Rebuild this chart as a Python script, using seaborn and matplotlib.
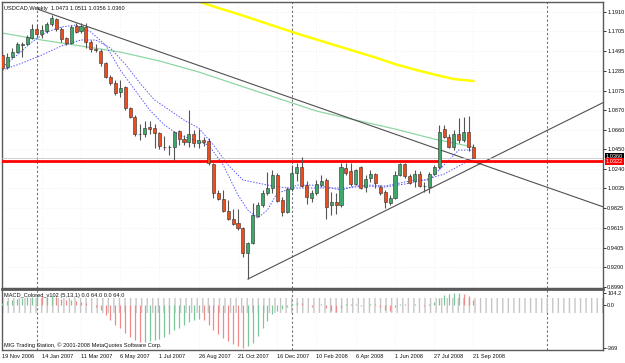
import matplotlib
matplotlib.use("Agg")
import matplotlib.pyplot as plt
import seaborn as sns

sns.set_style("white")
plt.rcParams['font.family'] = ['Liberation Sans', 'DejaVu Sans']

# weekly USDCAD bars, index 0 = 19 Nov 2006
opens = [1.1453, 1.1326, 1.1432, 1.1485, 1.1560, 1.1570, 1.1634, 1.1730, 1.1677, 1.1708,
         1.1783, 1.1836, 1.1730, 1.1634, 1.1581, 1.1762, 1.1708, 1.1751, 1.1592, 1.1517,
         1.1496, 1.1368, 1.1219, 1.1156, 1.1060, 1.1113, 1.0890, 1.0794, 1.0614, 1.0614,
         1.0688, 1.0677, 1.0624, 1.0475, 1.0475, 1.0475, 1.0645, 1.0560, 1.0529, 1.0614,
         1.0518, 1.0550, 1.0539, 1.0295, 0.9986, 0.9923, 0.9795, 0.9710, 0.9668, 0.9614,
         0.9349, 0.9455, 0.9742, 0.9859, 0.9986, 1.0040, 1.0178, 0.9912, 0.9784, 1.0029,
         1.0199, 1.0263, 1.0071, 0.9933, 0.9986, 1.0071, 1.0125, 0.9859, 0.9891, 0.9859,
         1.0252, 1.0220, 1.0082, 1.0263, 1.0050, 1.0146, 1.0188, 1.0050, 0.9997, 0.9880,
         0.9933, 1.0178, 1.0295, 1.0167, 1.0114, 1.0188, 1.0061, 1.0050, 1.0188, 1.0263,
         1.0667, 1.0582, 1.0475, 1.0614, 1.0550, 1.0635, 1.0473]
highs = [1.1496, 1.1475, 1.1528, 1.1592, 1.1592, 1.1666, 1.1783, 1.1772, 1.1772, 1.1804,
         1.1879, 1.1847, 1.1751, 1.1645, 1.1772, 1.1794, 1.1794, 1.1794, 1.1613, 1.1570,
         1.1517, 1.1379, 1.1241, 1.1188, 1.1188, 1.1124, 1.0901, 1.0816, 1.0720, 1.0752,
         1.0752, 1.0720, 1.0635, 1.0592, 1.0497, 1.0645, 1.0656, 1.0603, 1.0869, 1.0656,
         1.0667, 1.0582, 1.0571, 1.0305, 1.0018, 1.0018, 0.9912, 0.9816, 0.9816, 0.9625,
         0.9466, 0.9880, 0.9891, 1.0018, 1.0210, 1.0231, 1.0199, 0.9944, 1.0050, 1.0284,
         1.0305, 1.0369, 1.0114, 1.0018, 1.0125, 1.0178, 1.0146, 0.9997, 0.9986, 1.0305,
         1.0305, 1.0305, 1.0242, 1.0273, 1.0178, 1.0231, 1.0199, 1.0071, 1.0018, 0.9965,
         1.0220, 1.0305, 1.0305, 1.0188, 1.0231, 1.0220, 1.0103, 1.0210, 1.0284, 1.0709,
         1.0709, 1.0614, 1.0656, 1.0784, 1.0794, 1.0805, 1.0511]
lows = [1.1294, 1.1305, 1.1421, 1.1475, 1.1432, 1.1560, 1.1623, 1.1645, 1.1634, 1.1687,
        1.1762, 1.1708, 1.1592, 1.1560, 1.1570, 1.1687, 1.1687, 1.1528, 1.1485, 1.1485,
        1.1336, 1.1209, 1.1134, 1.1028, 1.1007, 1.0869, 1.0784, 1.0592, 1.0550, 1.0582,
        1.0614, 1.0465, 1.0454, 1.0443, 1.0390, 1.0337, 1.0497, 1.0497, 1.0475, 1.0475,
        1.0465, 1.0486, 1.0284, 0.9933, 0.9912, 0.9784, 0.9699, 0.9646, 0.9593, 0.9306,
        0.9072, 0.9444, 0.9731, 0.9838, 0.9965, 0.9986, 0.9891, 0.9742, 0.9774, 1.0008,
        1.0114, 1.0050, 0.9869, 0.9891, 0.9965, 1.0050, 0.9710, 0.9753, 0.9763, 0.9838,
        1.0178, 1.0061, 1.0071, 1.0029, 0.9997, 1.0103, 1.0040, 0.9965, 0.9827, 0.9859,
        0.9923, 1.0167, 1.0146, 1.0082, 1.0050, 1.0050, 0.9997, 0.9986, 1.0178, 1.0242,
        1.0571, 1.0465, 1.0443, 1.0518, 1.0529, 1.0433, 1.0356]
closes = [1.1315, 1.1432, 1.1485, 1.1570, 1.1570, 1.1645, 1.1730, 1.1677, 1.1719, 1.1783,
          1.1847, 1.1730, 1.1623, 1.1581, 1.1751, 1.1698, 1.1762, 1.1592, 1.1517, 1.1506,
          1.1368, 1.1219, 1.1156, 1.1049, 1.1103, 1.0890, 1.0794, 1.0614, 1.0614, 1.0677,
          1.0667, 1.0624, 1.0486, 1.0475, 1.0475, 1.0635, 1.0560, 1.0529, 1.0614, 1.0518,
          1.0550, 1.0529, 1.0305, 0.9986, 0.9923, 0.9795, 0.9710, 0.9657, 0.9614, 0.9349,
          0.9455, 0.9753, 0.9859, 0.9986, 1.0040, 1.0178, 0.9901, 0.9784, 1.0029, 1.0199,
          1.0263, 1.0061, 0.9944, 0.9986, 1.0082, 1.0114, 0.9838, 0.9891, 0.9859, 1.0263,
          1.0199, 1.0082, 1.0231, 1.0040, 1.0135, 1.0188, 1.0093, 0.9986, 0.9891, 0.9933,
          1.0178, 1.0295, 1.0167, 1.0093, 1.0188, 1.0061, 1.0061, 1.0188, 1.0263, 1.0635,
          1.0582, 1.0475, 1.0614, 1.0550, 1.0635, 1.0475, 1.0360]

# moving averages (bar index, price)
yellow_idx = [39, 44, 48, 52, 56, 60, 64, 68, 72, 76, 80, 84, 88, 92, 96]
yellow_val = [1.2038, 1.1953, 1.1889, 1.1820, 1.1751, 1.1682, 1.1618, 1.1554, 1.1491,
              1.1427, 1.1357, 1.1299, 1.1246, 1.1198, 1.1177]
green_idx = [0, 8, 16, 24, 32, 40, 48, 56, 64, 72, 80, 88, 96]
green_val = [1.1687, 1.1613, 1.1549, 1.1485, 1.1390, 1.1273, 1.1134, 1.0996, 1.0858,
             1.0762, 1.0667, 1.0560, 1.0475]
fast_idx = [0, 3, 6, 9, 12, 15, 18, 21, 24, 27, 30, 33, 36, 39, 42, 45, 48, 50, 52, 54,
            56, 58, 60, 63, 66, 69, 72, 75, 78, 81, 84, 87, 90, 93, 96]
fast_val = [1.1326, 1.1453, 1.1592, 1.1698, 1.1751, 1.1772, 1.1698, 1.1560, 1.1294, 1.1081,
            1.0869, 1.0709, 1.0603, 1.0550, 1.0497, 1.0284, 0.9965, 0.9806, 0.9721, 0.9806,
            0.9986, 1.0018, 1.0071, 1.0071, 1.0050, 1.0018, 1.0061, 1.0071, 1.0061, 1.0093,
            1.0125, 1.0125, 1.0284, 1.0443, 1.0443]
slow_idx = [0, 4, 8, 12, 16, 19, 22, 25, 28, 31, 34, 37, 40, 43, 46, 49, 52, 55, 58, 62,
            66, 70, 74, 78, 82, 86, 90, 93, 96]
slow_val = [1.1294, 1.1368, 1.1453, 1.1549, 1.1613, 1.1613, 1.1528, 1.1358, 1.1156, 1.0975,
            1.0869, 1.0762, 1.0677, 1.0497, 1.0284, 1.0125, 1.0093, 1.0061, 1.0040, 1.0040,
            1.0040, 1.0040, 1.0061, 1.0050, 1.0082, 1.0125, 1.0188, 1.0273, 1.0358]

# drawn objects
desc_idx = [7.1, 122.4]
desc_val = [1.1942, 0.9840]
asc_idx = [50, 122.4]
asc_val = [0.9072, 1.0947]
level = 1.0322
bid = 1.0360

price_ticks = [1.1910, 1.1705, 1.1495, 1.1285, 1.1075, 1.0870, 1.0660, 1.0450, 1.0240,
               1.0035, 0.9825, 0.9615, 0.9405, 0.9200, 0.8990]
date_idx = [0, 8, 16, 24, 32, 40, 48, 56, 64, 72, 80, 88, 96]
date_labels = ["19 Nov 2006", "14 Jan 2007", "11 Mar 2007", "6 May 2007", "1 Jul 2007",
               "26 Aug 2007", "21 Oct 2007", "16 Dec 2007", "10 Feb 2008", "6 Apr 2008",
               "1 Jun 2008", "27 Jul 2008", "21 Sep 2008"]
year_sep = [7, 59, 111]

macd = [22, 40, 48, 57, 65, 70, 74, 78, 74, 74, 78, 70, 57, 44, 48, 40, 31, 18, 5, -12,
        -38, -81, -124, -167, -193, -236, -270, -296, -313, -313, -304, -296, -292, -270,
        -244, -210, -193, -167, -141, -124, -115, -124, -167, -210, -244, -279, -304, -330,
        -347, -365, -347, -322, -261, -193, -133, -72, -46, -29, -12, 14, 31, 22, 5, -10,
        5, 12, -20, -45, -55, -20, 15, 10, 12, -5, 5, 15, 8, -15, -40, -50, -15, 15, 12, 0,
        8, 5, -5, 10, 25, 65, 91, 100, 104, 104, 100, 83, 48]

FS = 4.1
frame = '#5a5a5a'
bull = '#3da86a'
bear = '#ee4c1c'
txt = '#101010'

fig = plt.figure(figsize=(6.25, 3.63), dpi=100)
fig.patch.set_facecolor('white')
ax = fig.add_axes([2 / 625, 75 / 363, 601 / 625, 286 / 363])
am = fig.add_axes([2 / 625, 13 / 363, 601 / 625, 61 / 363], sharex=ax)

xs = list(range(len(closes)))
ax.set_xlim(-0.1, 122.4)
ax.set_ylim(0.8977, 1.2017)

# faint dotted grid
for p in price_ticks:
    ax.axhline(p, color='#f4dcdc', lw=0.5, ls=(0, (1, 3)), zorder=0)
for d in date_idx:
    ax.axvline(d, color='#f4dcdc', lw=0.5, ls=(0, (1, 3)), zorder=0)
    am.axvline(d, color='#f4dcdc', lw=0.5, ls=(0, (1, 3)), zorder=0)
for s in year_sep:
    ax.axvline(s, color='#707070', lw=0.8, ls=(0, (2, 2)), zorder=1)
    am.axvline(s, color='#707070', lw=0.8, ls=(0, (2, 2)), zorder=1)

# moving averages
sns.lineplot(x=yellow_idx, y=yellow_val, ax=ax, color='#ffff00', lw=1.8, zorder=2)
sns.lineplot(x=green_idx, y=green_val, ax=ax, color='#8ed6a6', lw=0.9, zorder=2)
sns.lineplot(x=fast_idx, y=fast_val, ax=ax, color='#5a5aff', lw=0.7, ls=(0, (1.5, 1.5)), zorder=2)
sns.lineplot(x=slow_idx, y=slow_val, ax=ax, color='#5a5aff', lw=0.7, ls=(0, (1.5, 1.5)), zorder=2)

# trend lines and levels
ax.plot(desc_idx, desc_val, color='#505050', lw=0.8, zorder=3)
ax.plot(asc_idx, asc_val, color='#505050', lw=0.8, zorder=3)
ax.axhline(bid, color='#c8c8c8', lw=0.6, zorder=3)
ax.axhline(level, color='#ff0000', lw=2, zorder=4)

# candles
body_lo = [min(o, c) for o, c in zip(opens, closes)]
body_h = [max(abs(c - o), 0.0004) for o, c in zip(opens, closes)]
cols = [bull if c > o else (bear if c < o else '#202020') for o, c in zip(opens, closes)]
ax.vlines(xs, lows, highs, color='#555555', lw=0.8, zorder=5)
ax.bar(xs, body_h, bottom=body_lo, width=0.62, color=cols, edgecolor='#303030',
       linewidth=0.4, zorder=6)

# price scale on the right
ax.yaxis.tick_right()
ax.set_yticks(price_ticks)
ax.set_yticklabels([f"{p:.4f}" for p in price_ticks], fontsize=FS, color=txt)
ax.tick_params(axis='y', length=2, width=0.6, pad=1, colors=txt)
ax.tick_params(axis='x', bottom=False, labelbottom=False)
ax.text(1.004, bid + 0.0012, f"{bid:.4f}", transform=ax.get_yaxis_transform(), fontsize=FS,
        color='white', va='center', ha='left', clip_on=False,
        bbox=dict(boxstyle='square,pad=0.15', fc='#000000', ec='none'))
ax.text(1.004, level, f"{level:.4f}", transform=ax.get_yaxis_transform(), fontsize=FS,
        color='white', va='center', ha='left', clip_on=False,
        bbox=dict(boxstyle='square,pad=0.15', fc='#ff0000', ec='none'))
for sp in ax.spines.values():
    sp.set_color(frame)
    sp.set_linewidth(1)

ax.text(0.004, 0.985, "USDCAD,Weekly  1.0473 1.0511 1.0356 1.0360", transform=ax.transAxes,
        fontsize=FS, va='top', ha='left', color=txt)

# MACD sub-window
am.set_ylim(-382, 140)
am.axhspan(-64, 64, fill=False, hatch='|||', edgecolor='#c6c6c6', lw=0, zorder=1)
mcols = ['#f08a8a' if i > 0 and macd[i] < macd[i - 1] else '#7cc79a' for i in range(len(macd))]
am.vlines(xs, 0, macd, colors=mcols, lw=0.9, zorder=3)
am.yaxis.tick_right()
am.set_yticks([104.2, 0, -369])
am.set_yticklabels(["104.2", "0.0", "-369"], fontsize=FS, color=txt)
am.tick_params(axis='y', length=2, width=0.6, pad=1, colors=txt)
am.set_xticks(date_idx)
am.set_xticklabels(date_labels, fontsize=FS, ha='left', color=txt)
am.tick_params(axis='x', length=2, width=0.6, pad=1, colors=txt)
for sp in am.spines.values():
    sp.set_color(frame)
    sp.set_linewidth(1)
am.spines['top'].set_linewidth(2)
am.text(0.004, 0.93, "MACD_Colored_v102 (5,13,1) 0.0 64.0 0.0 64.0", transform=am.transAxes,
        fontsize=FS, va='top', ha='left', color=txt)
am.text(0.004, 0.03, "MIG Trading Station, \u00a9 2001-2008 MetaQuotes Software Corp.",
        transform=am.transAxes, fontsize=FS, va='bottom', ha='left', color=txt)

fig.savefig("out.png", dpi=100, facecolor='white')
